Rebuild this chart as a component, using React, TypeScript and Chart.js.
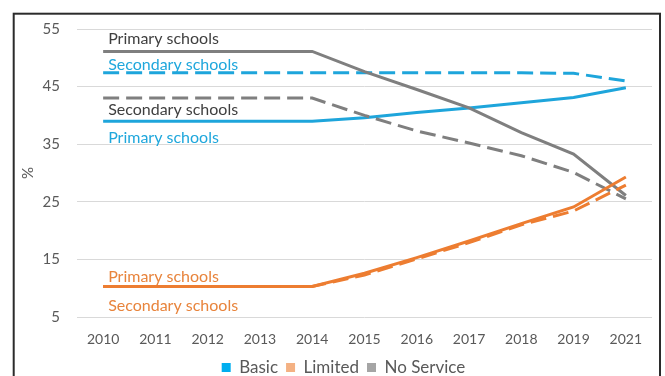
import React, { useEffect, useRef } from 'react';
import { Chart, registerables } from 'chart.js';

Chart.register(...registerables);

const years = ['2010', '2011', '2012', '2013', '2014', '2015', '2016', '2017', '2018', '2019', '2021'];
const basicPrimary = [39, 39, 39, 39, 39, 39.6, 40.5, 41.3, 42.2, 43.1, 44.8];
const basicSecondary = [47.4, 47.4, 47.4, 47.4, 47.4, 47.4, 47.4, 47.4, 47.4, 47.3, 46];
const limitedPrimary = [10.3, 10.3, 10.3, 10.3, 10.3, 12.6, 15.3, 18.2, 21.2, 24.1, 29.3];
const limitedSecondary = [10.3, 10.3, 10.3, 10.3, 10.3, 12.3, 15.1, 17.9, 21.0, 23.4, 27.9];
const noServicePrimary = [51.1, 51.1, 51.1, 51.1, 51.1, 47.6, 44.5, 41.3, 37.0, 33.3, 26.1];
const noServiceSecondary = [43, 43, 43, 43, 43, 40, 37.3, 35.2, 33, 30.1, 25.5];
const yTickValues = [5, 15, 25, 35, 45, 55];

const legendNames = ['Basic', 'Limited', 'No Service'];
const legendColors = ['#00aeef', '#f4b183', '#a5a5a5'];

const BLUE = '#1ea5db';
const ORANGE = '#ed7d31';
const GRAY = '#7f7f7f';

const noteTexts = ['Primary schools', 'Secondary schools', 'Secondary schools', 'Primary schools', 'Primary schools', 'Secondary schools'];
const noteValues = [53.3, 48.85, 41.0, 36.15, 12.0, 6.95];
const noteColors = ['#3f3f3f', '#1fa7dc', '#3f3f3f', '#1fa7dc', '#e8843c', '#e8843c'];

const TEXT = '#595959';
const FONT = 'Lato';

const notesPlugin = {
  id: 'notes',
  afterDatasetsDraw(chart: any) {
    const { ctx, scales } = chart;
    const x = scales.x;
    const y = scales.y;
    ctx.save();
    ctx.font = `16px ${FONT}`;
    ctx.textAlign = 'left';
    ctx.textBaseline = 'middle';
    noteTexts.forEach((t, i) => {
      ctx.fillStyle = noteColors[i];
      ctx.fillText(t, x.getPixelForValue(0) + 5, y.getPixelForValue(noteValues[i]));
    });
    ctx.restore();
  },
};

const legendShiftPlugin = {
  id: 'legendShift',
  afterLayout(chart: any) {
    if (chart.legend) {
      chart.legend.left += 11;
      chart.legend.right += 11;
    }
  },
};

const framePlugin = {
  id: 'frame',
  afterDraw(chart: any) {
    const { ctx } = chart;
    ctx.save();
    ctx.strokeStyle = '#2b2b2b';
    ctx.lineWidth = 2;
    ctx.strokeRect(13.7, 13.7, 646.3, 400);
    ctx.restore();
  },
};

export default function App() {
  const ref = useRef<HTMLCanvasElement>(null);
  useEffect(() => {
    if (!ref.current) return;
    Chart.defaults.font.family = FONT;
    const mk = (label: string, data: number[], color: string, dashed: boolean) => ({
      label,
      data,
      borderColor: color,
      backgroundColor: color,
      borderWidth: 3,
      borderDash: dashed ? [16, 7] : [],
      pointRadius: 0,
      tension: 0,
      fill: false,
    });
    const chart = new Chart(ref.current, {
      type: 'line',
      data: {
        labels: years,
        datasets: [
          mk('Limited secondary', limitedSecondary, ORANGE, true),
          mk('Limited primary', limitedPrimary, ORANGE, false),
          mk('No Service secondary', noServiceSecondary, GRAY, true),
          mk('No Service primary', noServicePrimary, GRAY, false),
          mk('Basic secondary', basicSecondary, BLUE, true),
          mk('Basic primary', basicPrimary, BLUE, false),
        ],
      },
      options: {
        responsive: false,
        animation: false,
        layout: { padding: { left: 13, right: 13, top: 29, bottom: -10 } },
        plugins: {
          tooltip: { enabled: false },
          legend: {
            position: 'bottom',
            labels: {
              color: TEXT,
              font: { size: 17, family: FONT },
              boxWidth: 9,
              boxHeight: 9,
              padding: 8,
              generateLabels: () =>
                legendNames.map((n, i) => ({
                  text: n,
                  fillStyle: legendColors[i],
                  strokeStyle: legendColors[i],
                  lineWidth: 0,
                  hidden: false,
                  datasetIndex: i,
                  fontColor: TEXT,
                })),
            },
          },
        },
        scales: {
          x: {
            offset: true,
            grid: { display: false, drawTicks: false, offset: true },
            border: { display: false },
            ticks: { color: TEXT, font: { size: 14, family: FONT }, padding: 14, maxRotation: 0, autoSkip: false },
            afterFit: (s: any) => { s.height = 34; },
          },
          y: {
            min: 5,
            max: 55,
            afterBuildTicks: (s: any) => { s.ticks = yTickValues.map((v) => ({ value: v })); },
            grid: { color: '#d9d9d9', lineWidth: 1, drawTicks: false },
            border: { display: false },
            ticks: { color: TEXT, font: { size: 15, family: FONT }, padding: 17 },
            title: { display: true, text: '%', color: TEXT, font: { size: 15, family: FONT }, padding: { top: 6, bottom: 0 } },
            afterFit: (s: any) => { s.width = 64; },
          },
        },
      },
      plugins: [notesPlugin, legendShiftPlugin, framePlugin],
    });
    return () => chart.destroy();
  }, []);
  return (
    <div style={{ position: 'fixed', left: 0, top: 0, width: 665, height: 376, background: '#fff' }}>
      <canvas ref={ref} width={665} height={376} />
    </div>
  );
}
